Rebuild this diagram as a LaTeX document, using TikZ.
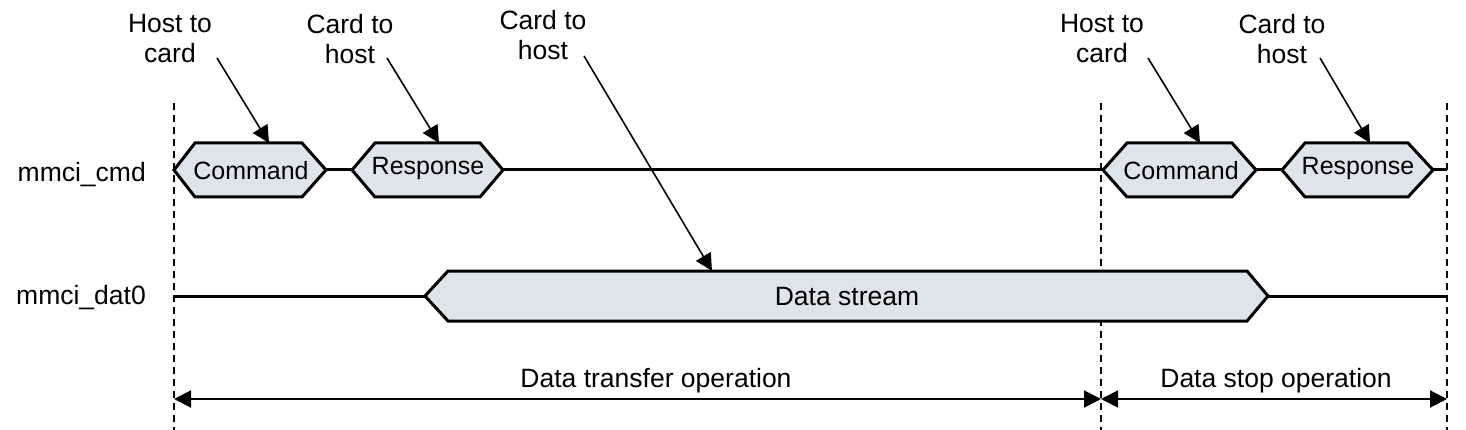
\documentclass[tikz,border=0pt]{standalone}
\usepackage{fontspec}
\setmainfont{Liberation Sans}
\usetikzlibrary{arrows.meta}
\definecolor{hexfill}{HTML}{DDE4EB}
\begin{document}
\begin{tikzpicture}[x=1pt,y=-1pt,
  sig/.style={line width=3pt},
  hex/.style={line width=3pt,fill=hexfill,line join=miter},
  guide/.style={line width=1.6pt,dash pattern=on 7pt off 5pt},
  callout/.style={line width=1.6pt,-{Triangle[length=17pt,width=17pt]}},
  span/.style={line width=2pt,{Triangle[length=17pt,width=17pt]}-{Triangle[length=17pt,width=17pt]}},
  lbl/.style={font=\fontsize{26.5}{30}\selectfont,inner sep=0pt,align=center},
  txt/.style={font=\fontsize{26.5}{30}\selectfont,inner sep=0pt},
  hextxt/.style={font=\fontsize{25}{30}\selectfont,inner sep=0pt}]
\useasboundingbox (0,0) rectangle (1466,430);
% guides
\draw[guide] (174,103) -- (174,430);
\draw[guide] (1101,103) -- (1101,430);
\draw[guide] (1447,103) -- (1447,430);
% signal names
\node[txt,anchor=east] (ncmd) at (146,175) {mmci\_cmd};
\node[txt,anchor=east] (ndat) at (146,298) {mmci\_dat0};
% cmd line
\coordinate (c0) at (326,170);
\coordinate (c1) at (352,170);
\coordinate (c2) at (503,170);
\coordinate (c3) at (1103,170);
\coordinate (c4) at (1256,170);
\coordinate (c5) at (1282,170);
\coordinate (c6) at (1433,170);
\coordinate (c7) at (1447,170);
\draw[sig] (c0) -- (c1);
\draw[sig] (c2) -- (c3);
\draw[sig] (c4) -- (c5);
\draw[sig] (c6) -- (c7);
\draw[hex] (174,170) -- (195,143) -- (302,143) -- (326,170) -- (302,197) -- (195,197) -- cycle;
\draw[hex] (352,170) -- (375,143) -- (480,143) -- (503,170) -- (480,197) -- (375,197) -- cycle;
\draw[hex] (1103,170) -- (1127,143) -- (1232,143) -- (1256,170) -- (1232,197) -- (1127,197) -- cycle;
\draw[hex] (1282,170) -- (1305,143) -- (1408,143) -- (1433,170) -- (1408,197) -- (1305,197) -- cycle;
\node[hextxt] (cmd1) at (251,171) {Command};
\node[hextxt] (rsp1) at (428,168) {Response};
\node[hextxt] (cmd2) at (1181,171) {Command};
\node[hextxt] (rsp2) at (1358,168) {Response};
% data line
\coordinate (d0) at (174,296);
\coordinate (d1) at (425,296);
\coordinate (d2) at (1268,296);
\coordinate (d3) at (1447,296);
\draw[sig] (d0) -- (d1);
\draw[sig] (d2) -- (d3);
\draw[hex] (425,296) -- (448,271) -- (1247,271) -- (1268,296) -- (1247,321) -- (448,321) -- cycle;
\node[txt] (ds) at (847,297) {Data stream};
% callouts
\node[lbl] (l1) at (170,39) {Host to\\card};
\node[lbl] (l2) at (350,39) {Card to\\host};
\node[lbl] (l3) at (543,35) {Card to\\host};
\node[lbl] (l4) at (1102,39) {Host to\\card};
\node[lbl] (l5) at (1282,39) {Card to\\host};
\coordinate (a1s) at (217,58); \coordinate (a1e) at (269,143);
\coordinate (a2s) at (387,58); \coordinate (a2e) at (439,143);
\coordinate (a3s) at (584,56); \coordinate (a3e) at (712,271);
\coordinate (a4s) at (1148,58); \coordinate (a4e) at (1200,143);
\coordinate (a5s) at (1320,58); \coordinate (a5e) at (1370,143);
\draw[callout] (a1s) -- (a1e);
\draw[callout] (a2s) -- (a2e);
\draw[callout] (a3s) -- (a3e);
\draw[callout] (a4s) -- (a4e);
\draw[callout] (a5s) -- (a5e);
% spans
\coordinate (s0) at (174,399);
\coordinate (s1) at (1101,399);
\coordinate (s2) at (1447,399);
\draw[span] (s0) -- (s1);
\draw[span] (s1) -- (s2);
\node[txt] (op1) at (656,381) {Data transfer operation};
\node[txt] (op2) at (1276,381) {Data stop operation};
\end{tikzpicture}
\end{document}
